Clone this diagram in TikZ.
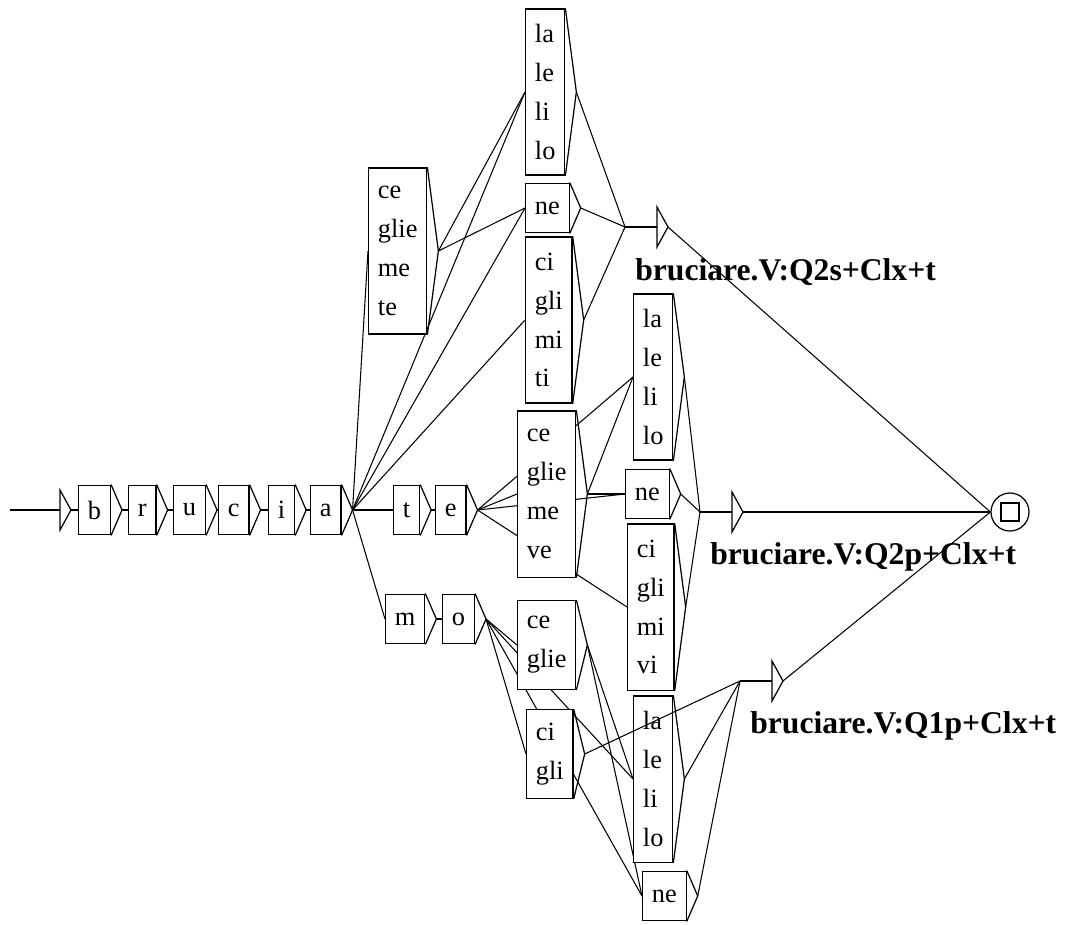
\documentclass[tikz,border=0pt]{standalone}
\usepackage{fontspec}
\setmainfont{Liberation Serif}
\usepackage{tikz}
\usetikzlibrary{calc, backgrounds}
\newcommand{\bxfont}{\fontsize{15}{22.1}\selectfont}
\newcommand{\lblfont}{\fontsize{18}{21}\selectfont\bfseries}
\tikzset{
	tbox/.style={rectangle, draw=black, fill=white, line width=0.7pt, anchor=west, align=left, inner xsep=5.3pt, inner ysep=0pt, font=\bxfont, minimum height={#1*22.1pt+6.2pt}},
	tbox/.default=1,
	chev/.style={line width=0.7pt, line join=miter},
	lnk/.style={line width=0.6pt},
	% output of the epsilon boxes
	outlbl/.style={anchor=west, font=\lblfont, inner sep=0pt},
}

\begin{document}
\begin{tikzpicture}[x=0.02cm, y=-0.02cm]
	\useasboundingbox (0,0) rectangle (1072,924);
	\foreach \n/\x in {b/78, r/128, u/173, c/218, i/268, a/310, t/393, e/435}
		\node[tbox] (\n) at (\x,510) {\n};
	\node[tbox] (m) at (385,619) {m};
	\node[tbox] (o) at (442,619) {o};
	% brucia + clitics
	\node[tbox=4] (ce1) at (368,251) {ce\\glie\\me\\te};
	\node[tbox=4] (la1) at (525,92) {la\\le\\li\\lo};
	\node[tbox] (ne1) at (525,208) {ne};
	\node[tbox=4] (ci1) at (525,320) {ci\\gli\\mi\\ti};
	% bruciate + clitics
	\node[tbox=4] (ce2) at (517,494) {ce\\glie\\me\\ve};
	\node[tbox=4] (la2) at (633,377) {la\\le\\li\\lo};
	\node[tbox] (ne2) at (625,494) {ne};
	\node[tbox=4] (ci2) at (627,607) {ci\\gli\\mi\\vi};
	% bruciamo + clitics
	\node[tbox=2] (ce3) at (517,645) {ce\\glie};
	\node[tbox=2] (ci3) at (526,754) {ci\\gli};
	\node[tbox=4] (la3) at (633,779) {la\\le\\li\\lo};
	\node[tbox] (ne3) at (642,896) {ne};
	\foreach \n in {b,r,u,c,i,a,t,e,m,o,ce1,la1,ne1,ci1,ce2,la2,ne2,ci2,ce3,ci3,la3,ne3}
		\draw[chev] (\n.north east) -- ($(\n.east)+(11,0)$) coordinate (\n-o) -- (\n.south east);
	\coordinate (start) at (10,510);
	\coordinate (init) at (60,510);
	\draw[chev] (init) ++(0,-20) -- ++(11,20) coordinate (init-o) -- ++(-11,20) -- cycle;
	\foreach \k/\x/\y/\s in {1/625/227/Q2s, 2/700/512/Q2p, 3/740/681/Q1p} {
		\coordinate (eps\k) at (\x,\y);
		\draw[chev] (eps\k) ++(32,-20) -- ++(11,20) coordinate (eps\k-o) -- ++(-11,20) -- cycle;
		\node[outlbl] (out\k) at ($(eps\k)+(10,45)$) {bruciare.V:\s+Clx+t};
	}
	\node[circle, draw, line width=0.7pt, minimum size=0.76cm, inner sep=0pt] (fin) at (1010,512) {};
	\node[draw, line width=0.7pt, minimum size=0.36cm, inner sep=0pt] (finsq) at (fin.center) {};
	\begin{scope}[on background layer]
		\fill[white] (0,0) rectangle (1072,924);
		\draw[lnk] (start) -- (init);
		\foreach \s/\d in {init/b, b/r, r/u, u/c, c/i, i/a, a/ce1, a/la1, a/ne1, a/ci1, a/t, a/m, t/e, m/o,
				e/ce2, e/la2, e/ne2, e/ci2, ce1/la1, ce1/ne1, ce2/la2, ce2/ne2,
				o/ce3, o/ci3, o/la3, o/ne3, ce3/la3, ce3/ne3}
			\draw[lnk] (\s-o) -- (\d.west);
		\foreach \s/\k in {la1/1, ne1/1, ci1/1, la2/2, ne2/2, ci2/2, la3/3, ne3/3}
			\draw[lnk] (\s-o) -- (eps\k);
		\foreach \k in {1,2,3} {
			\draw[lnk] (eps\k) -- ++(32,0);
			\draw[lnk] (eps\k-o) -- (fin.west);
		}
	\end{scope}
	\draw[lnk] (ci3-o) -- (eps3);
\end{tikzpicture}
\end{document}
